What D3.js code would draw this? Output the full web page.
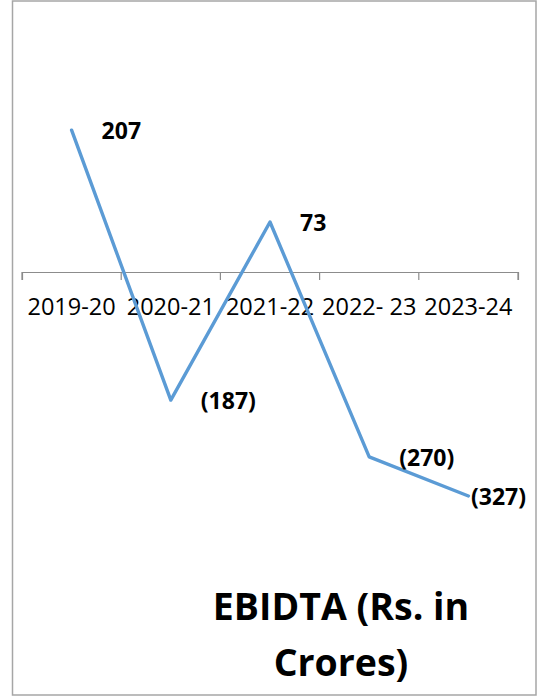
<!DOCTYPE html>
<html>
<head>
<meta charset="utf-8">
<script src="https://cdn.jsdelivr.net/npm/d3@7/dist/d3.min.js"></script>
<style>
  html, body { margin: 0; padding: 0; background: #fff; }
  svg { display: block; }
</style>
</head>
<body>
<svg id="chart" width="546" height="698"></svg>
<script>
const categories = ["2019-20", "2020-21", "2021-22", "2022- 23", "2023-24"];
const ebitda = [207, -187, 73, -270, -327];
const valueLabels = ["207", "(187)", "73", "(270)", "(327)"];
const titleLines = ["EBIDTA (Rs. in", "Crores)"];

const W = 546, H = 698;
const svg = d3.select("#chart");
const font = "'Open Sans', 'Liberation Sans', sans-serif";

// frame
svg.append("rect")
  .attr("x", 12.5).attr("y", 1).attr("width", 523.5).attr("height", 694)
  .attr("fill", "#fff").attr("stroke", "#a6a6a6").attr("stroke-width", 1.5);

const x = d3.scaleBand().domain(categories).range([22, 518]).paddingInner(0).paddingOuter(0);
const y = d3.scaleLinear().domain([-400, 300]).range([546, 66.5]);

// category axis at zero
const axis = d3.axisBottom(x).tickSizeInner(8).tickSizeOuter(8).tickPadding(0).tickFormat(() => "");
const axisG = svg.append("g").attr("transform", `translate(0,${y(0)})`).call(axis);
axisG.select(".domain").attr("stroke", "#8c8c8c").attr("stroke-width", 1.2);
// ticks at category boundaries
const bounds = categories.map(c => x(c)).concat([x.range()[1]]);
axisG.selectAll(".tick").remove();
axisG.selectAll("line.bnd").data(bounds).enter().append("line")
  .attr("class", "bnd")
  .attr("x1", d => d).attr("x2", d => d)
  .attr("y1", 0).attr("y2", 8)
  .attr("stroke", "#8c8c8c").attr("stroke-width", 1.2);
axisG.selectAll("text.cat").data(categories).enter().append("text")
  .attr("class", "cat")
  .attr("x", d => x(d) + x.bandwidth() / 2)
  .attr("y", 42.5)
  .attr("text-anchor", "middle")
  .attr("font-family", font)
  .attr("font-size", 23.5)
  .attr("fill", "#000")
  .text(d => d);

// line
const data = categories.map((c, i) => ({ c, v: ebitda[i], label: valueLabels[i] }));
const line = d3.line().x(d => x(d.c) + x.bandwidth() / 2).y(d => y(d.v));
svg.append("path").datum(data)
  .attr("d", line)
  .attr("fill", "none")
  .attr("stroke", "#5b9bd5")
  .attr("stroke-width", 3.4)
  .attr("stroke-linejoin", "round")
  .attr("stroke-linecap", "round");

// data labels
svg.selectAll("text.val").data(data).enter().append("text")
  .attr("class", "val")
  .attr("font-family", font)
  .attr("font-weight", "bold")
  .attr("font-size", 23)
  .attr("fill", "#000")
  .attr("y", d => y(d.v) + 9)
  .text(d => d.label)
  .attr("x", function(d) {
    const px = x(d.c) + x.bandwidth() / 2 + 30;
    const w = this.getComputedTextLength();
    return Math.min(px, 526 - w);
  });

// title
svg.selectAll("text.title").data(titleLines).enter().append("text")
  .attr("class", "title")
  .attr("x", 341)
  .attr("y", (d, i) => 620 + i * 56)
  .attr("text-anchor", "middle")
  .attr("font-family", font)
  .attr("font-weight", "bold")
  .attr("font-size", 37.5)
  .attr("fill", "#000")
  .text(d => d);
</script>
</body>
</html>
